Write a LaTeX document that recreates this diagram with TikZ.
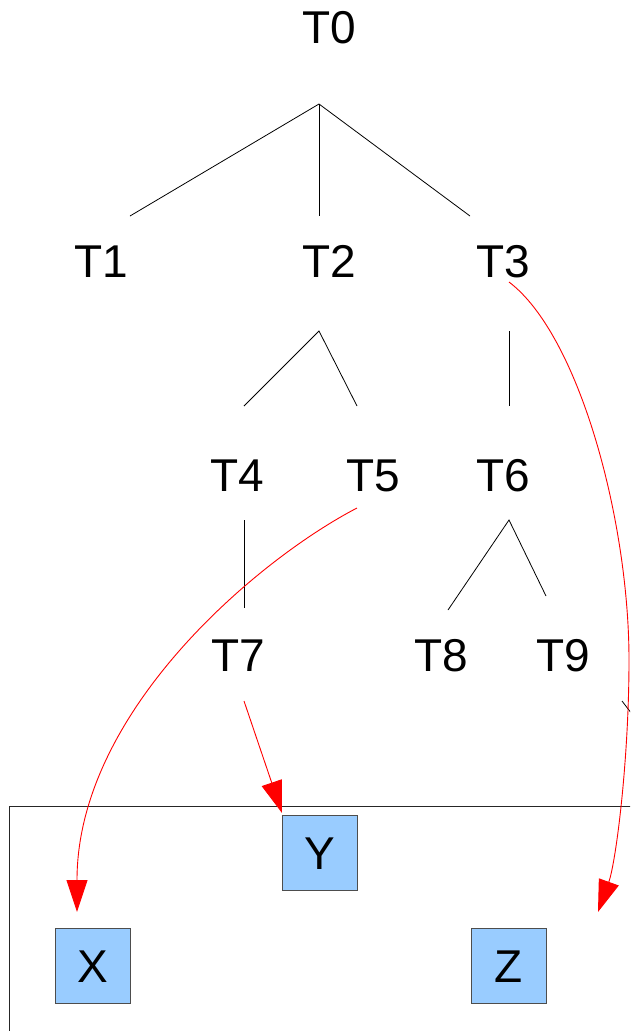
\documentclass[tikz,border=0pt]{standalone}
\usepackage{fontspec}
\setmainfont{Liberation Sans}
\usetikzlibrary{arrows.meta}
\definecolor{boxblue}{HTML}{99CCFF}
\definecolor{boxedge}{HTML}{4D4D4D}
\begin{document}
\begin{tikzpicture}[x=1pt,y=-1pt,
  lbl/.style={font=\fontsize{46}{46}\selectfont, inner sep=0pt, anchor=base},
  tline/.style={draw=black, line width=0.8pt},
  redarrow/.style={draw=red, line width=0.9pt, -{Triangle[length=32pt,width=21pt]}},
  leafbox/.style={draw=boxedge, fill=boxblue, line width=1pt, minimum width=75pt,
    minimum height=75pt, inner sep=0pt, font=\fontsize{46}{46}\selectfont,
    text height=33pt, text depth=0pt},
  frame/.style={draw=black!85, line width=0.8pt}]
\useasboundingbox (0,0) rectangle (630,1031);
\clip (0,0) rectangle (630,1031);
% labels
\node[lbl] (T0) at (329,43) {T0};
\node[lbl] (T1) at (101.5,277) {T1};
\node[lbl] (T2) at (329,277) {T2};
\node[lbl] (T3) at (503,277) {T3};
\node[lbl] (T4) at (237.5,491) {T4};
\node[lbl] (T5) at (373.5,491) {T5};
\node[lbl] (T6) at (503,491) {T6};
\node[lbl] (T7) at (238,671) {T7};
\node[lbl] (T8) at (441,671) {T8};
\node[lbl] (T9) at (563,671) {T9};
% tree coordinates
\coordinate (a0) at (319,104);
\coordinate (c1) at (130,216);
\coordinate (c2) at (319,216);
\coordinate (c3) at (470,216);
\coordinate (a2) at (319,331);
\coordinate (c4) at (244,406);
\coordinate (c5) at (357,406);
\coordinate (a3) at (509,331);
\coordinate (c6) at (509,406);
\coordinate (a4) at (244,520);
\coordinate (c7) at (244,608);
\coordinate (a6) at (509,520);
\coordinate (c8) at (448,610);
\coordinate (c9) at (546,596);
\coordinate (a9) at (622,701);
\coordinate (c10) at (645,731);
\draw[tline] (c1) -- (a0) -- (c3);
\draw[tline] (a0) -- (c2);
\draw[tline] (c4) -- (a2) -- (c5);
\draw[tline] (a3) -- (c6);
\draw[tline] (a4) -- (c7);
\draw[tline] (c8) -- (a6) -- (c9);
\draw[tline] (a9) -- (c10);
% container
\coordinate (fr) at (645,806);
\coordinate (fl) at (9,806);
\coordinate (fb) at (9,1045);
\draw[frame] (fr) -- (fl) -- (fb);
% boxes
\node[leafbox] (Y) at (319.5,852.5) {Y};
\node[leafbox] (X) at (92.5,965.5) {X};
\node[leafbox] (Z) at (508.5,965.5) {Z};
% red arrows
\coordinate (t5s) at (357,508);
\coordinate (xtip) at (77,912);
\coordinate (t3s) at (509,282);
\coordinate (cmid) at (629,660);
\coordinate (ztip) at (598,912);
\coordinate (t7s) at (244,701);
\coordinate (ytip) at (282,813);
\draw[redarrow] (t5s) .. controls (257,560) and (77,712) .. (xtip);
\draw[redarrow] (t3s) .. controls (579,335) and (629,520) .. (cmid) .. controls (629,760) and (616,862) .. (ztip);
\draw[redarrow] (t7s) -- (ytip);
\end{tikzpicture}
\end{document}
